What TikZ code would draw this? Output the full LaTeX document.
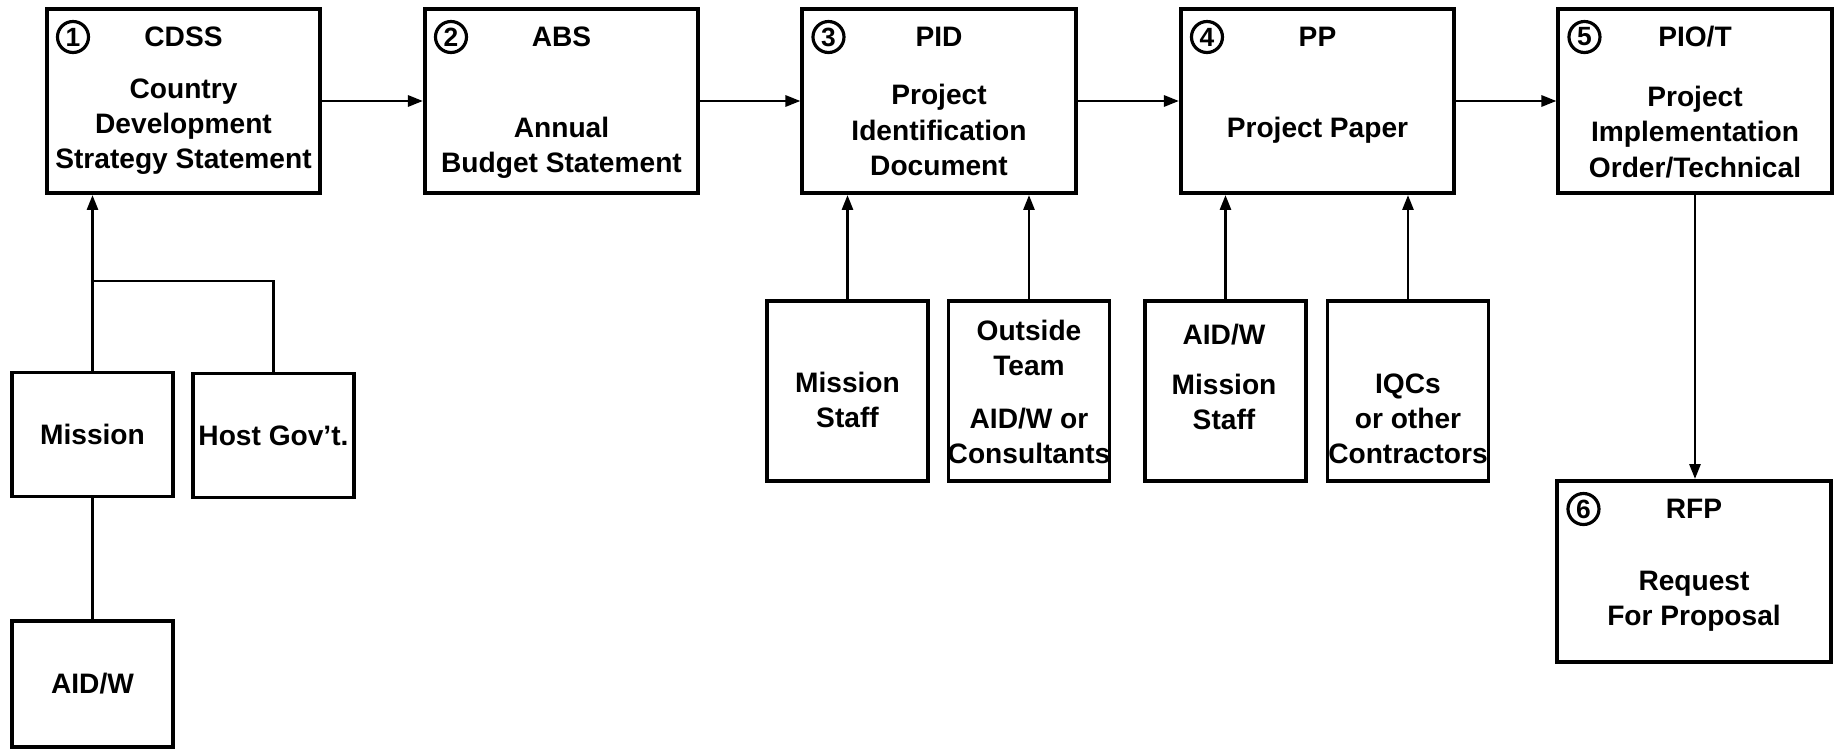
\documentclass[tikz,border=0pt]{standalone}
\usepackage{fontspec}
\setmainfont{Liberation Sans}
\usetikzlibrary{arrows.meta,positioning}

\begin{document}
\begin{tikzpicture}[x=0.01cm, y=-0.01cm,
    every node/.style={font=\fontsize{8}{10}\selectfont\bfseries, align=center, inner sep=0pt},
    stage/.style={draw, line width=1.1pt, minimum width=2.73cm, minimum height=1.84cm},
    actor/.style={draw, line width=1.1pt, minimum width=1.61cm, minimum height=1.80cm},
    party/.style={draw, line width=1.1pt, minimum width=1.61cm, minimum height=1.24cm},
    num/.style={circle, draw, line width=0.9pt, minimum size=0.31cm,
      font=\fontsize{7.5}{8}\selectfont\bfseries},
    flow/.style={line width=0.8pt, -{Triangle[length=1.5mm,width=1.1mm]}},
    tie/.style={line width=0.8pt}]
  \useasboundingbox (0,0) rectangle (1838,749);

  \node[stage] (cdss) at (183.5,101) {};
  \node[stage] (abs)  at (561.5,101) {};
  \node[stage] (pid)  at (939,101) {};
  \node[stage] (pp)   at (1317.5,101) {};
  \node[stage] (piot) at (1695,101) {};
  \node[stage, minimum height=1.81cm] (rfp) at (1694,571.5) {};

  \foreach \b/\n/\t in {cdss/1/CDSS, abs/2/ABS, pid/3/PID, pp/4/PP, piot/5/{PIO/T}, rfp/6/RFP} {
    \node[num] (\b-n) at ([shift={(28,30)}]\b.north west) {\n};
    \node (\b-h) at ([yshift=-0.30cm]\b.north) {\t};
  }

  \node (cdss-t) at (183.5,127) {Country\\Development\\Strategy Statement};
  \node (abs-t)  at (561.5,148) {Annual\\Budget Statement};
  \node (pid-t)  at (939,130) {Project\\Identification\\Document};
  \node (pp-t)   at (1317.5,130) {Project Paper};
  \node (piot-t) at (1695,132) {Project\\Implementation\\Order/Technical};
  \node (rfp-t)  at (1694,601) {Request\\For Proposal};

  \node[actor] (mstaff)  at (847.5,391) {};
  \node[actor] (outside) at (1029,391) {};
  \node[actor] (aidw)    at (1225.5,391) {};
  \node[actor] (iqc)     at (1408,391) {};
  \node (mstaff-t)  at (847.5,400) {Mission\\Staff};
  \node (outside-t) at (1029,392) {Outside\\Team\\[5pt]AID/W or\\Consultants};
  \node (aidw-t)    at (1224,377) {AID/W\\[4pt]Mission\\Staff};
  \node (iqc-t)     at (1408,419) {IQCs\\or other\\Contractors};

  \node[party] (mis)  at (92.5,434.5) {Mission};
  \node[party] (host) at (273.5,435.5) {Host Gov’t.};
  \node[party, minimum height=1.26cm] (aid) at (92.5,684) {AID/W};
  \coordinate (join) at (92.5,281);

  \draw[flow] (cdss) -- (abs);
  \draw[flow] (abs) -- (pid);
  \draw[flow] (pid) -- (pp);
  \draw[flow] (pp) -- (piot);
  \draw[flow] (piot.south) -- (piot.south |- rfp.north);
  \draw[flow] (mstaff.north) -- (mstaff.north |- pid.south);
  \draw[flow] (outside.north) -- (outside.north |- pid.south);
  \draw[flow] (aidw.north) -- (aidw.north |- pp.south);
  \draw[flow] (iqc.north) -- (iqc.north |- pp.south);
  \draw[flow] (mis.north) -- (mis.north |- cdss.south);
  \draw[tie] (host.north) |- (join);
  \draw[tie] (aid.north) -- (mis.south);
\end{tikzpicture}
\end{document}
